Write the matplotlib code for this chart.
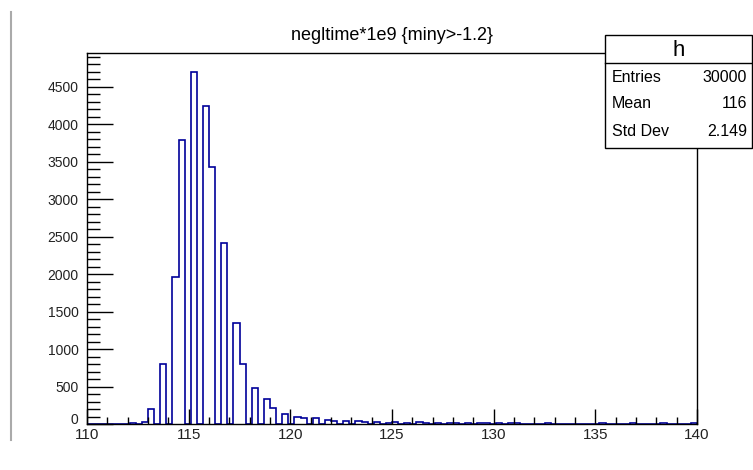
import matplotlib
matplotlib.use("Agg")
import matplotlib.pyplot as plt
import matplotlib.transforms as mtransforms
import numpy as np
from matplotlib.ticker import MultipleLocator

plt.rcParams['font.family'] = ['Liberation Sans', 'DejaVu Sans']

x_min, x_max, n_bins = 110.0, 140.0, 100
counts = [
    0, 0, 0, 0, 0, 0, 0, 15, 0, 30,
    196, 0, 801, 0, 1958, 3791, 0, 4703, 0, 4249,
    3435, 0, 2420, 0, 1344, 801, 0, 477, 0, 330,
    218, 0, 134, 0, 98, 76, 0, 76, 0, 53,
    40, 0, 35, 0, 35, 25, 0, 25, 0, 20,
    25, 0, 20, 0, 25, 20, 0, 20, 0, 18,
    12, 0, 15, 0, 15, 12, 0, 12, 0, 10,
    12, 0, 5, 0, 0, 10, 0, 0, 0, 0,
    0, 0, 0, 0, 10, 0, 0, 0, 0, 8,
    0, 0, 0, 0, 8, 0, 0, 0, 0, 10,
]
title = "negltime*1e9 {miny>-1.2}"
stats_name = "h"
stats_labels = ["Entries", "Mean", "Std Dev"]
stats_values = ["30000", "116", "2.149"]

W, H = 753, 470
fig = plt.figure(figsize=(W / 100, H / 100), dpi=100)
ax = fig.add_axes([87 / W, (H - 424) / H, (697 - 87) / W, (424 - 53) / H])

edges = np.linspace(x_min, x_max, n_bins + 1)
ax.stairs(counts, edges, color="#000099", linewidth=1.2)
ax.set_xlim(x_min, x_max)
ax.set_ylim(0, max(counts) * 1.053)

ax.xaxis.set_major_locator(MultipleLocator(5))
ax.xaxis.set_minor_locator(MultipleLocator(1))
ax.yaxis.set_major_locator(MultipleLocator(500))
ax.yaxis.set_minor_locator(MultipleLocator(100))
ax.tick_params(axis="x", which="major", direction="in", length=11, width=1, labelsize=11, pad=3, top=False)
ax.tick_params(axis="x", which="minor", direction="in", length=5, width=1, top=False)
ax.tick_params(axis="y", which="major", direction="in", length=19, width=1, labelsize=10, pad=6, right=False)
ax.tick_params(axis="y", which="minor", direction="in", length=9, width=1, right=False)
fig.canvas.draw()
for lbl in ax.get_xticklabels() + ax.get_yticklabels():
    lbl.set_color("#222222")
for lbl in ax.get_yticklabels():
    if lbl.get_text() == "0":
        lbl.set_transform(lbl.get_transform() + mtransforms.ScaledTranslation(0, 4 / 72, fig.dpi_scale_trans))
for s in ax.spines.values():
    s.set_linewidth(1.0)

fig.text(0.5 * (87 + 697) / W, (H - 35) / H, title, ha="center", va="center", fontsize=13)

# left pad border line
fig.add_artist(plt.Line2D([11 / W, 11 / W], [(H - 440) / H, (H - 12) / H], color="#aaaaaa", linewidth=1.5))

# stats box
bx0, bx1, by0, by1 = 605, 752, 35, 148
rect = plt.Rectangle((bx0 / W, (H - by1) / H), (bx1 - bx0) / W, (by1 - by0) / H,
                     transform=fig.transFigure, facecolor="white", edgecolor="black", linewidth=1.0, zorder=5)
fig.add_artist(rect)
fig.add_artist(plt.Line2D([bx0 / W, bx1 / W], [(H - 63) / H, (H - 63) / H], color="black", linewidth=1.0, zorder=6))
fig.text((bx0 + bx1) / 2 / W, (H - 50) / H, stats_name, ha="center", va="center", fontsize=16, zorder=7)
rows_y = [77, 104, 132]
for lab, val, yy in zip(stats_labels, stats_values, rows_y):
    fig.text((bx0 + 7) / W, (H - yy) / H, lab, ha="left", va="center", fontsize=11.5, zorder=7)
    fig.text((bx1 - 5) / W, (H - yy) / H, val, ha="right", va="center", fontsize=11.5, zorder=7)

fig.savefig("out.png", dpi=100)
